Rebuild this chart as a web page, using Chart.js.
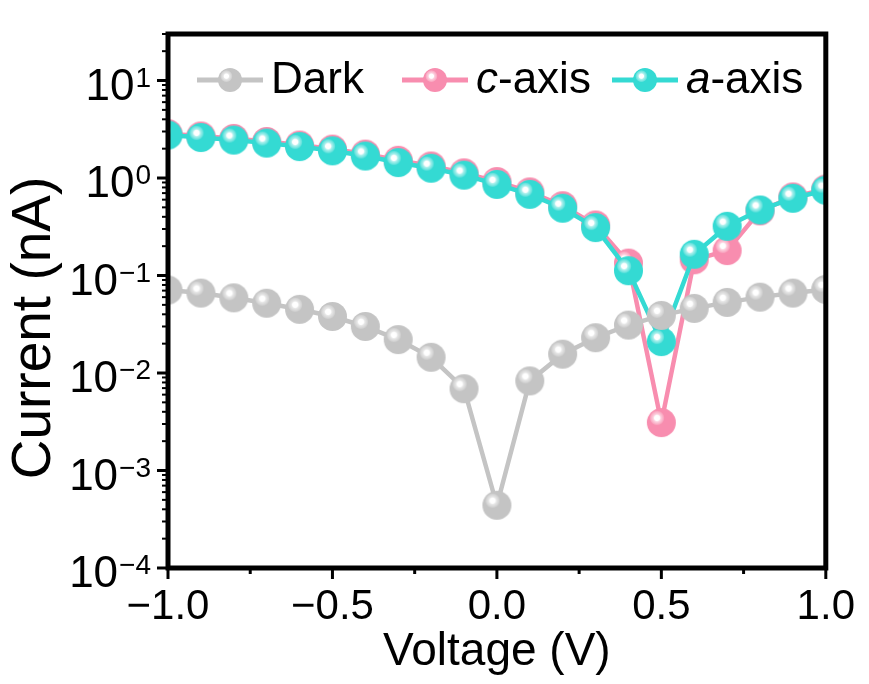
<!DOCTYPE html>
<html>
<head>
<meta charset="utf-8">
<script src="https://cdn.jsdelivr.net/npm/chart.js@4.4.0/dist/chart.umd.min.js"></script>
<style>
  html, body { margin: 0; padding: 0; background: #fff; }
  #wrap { width: 869px; height: 684px; }
</style>
</head>
<body>
<div id="wrap"><canvas id="chart" width="869" height="684"></canvas></div>
<script>
// values
const voltage = [-1.0, -0.9, -0.8, -0.7, -0.6, -0.5, -0.4, -0.3, -0.2, -0.1, 0.0,
                 0.1, 0.2, 0.3, 0.4, 0.5, 0.6, 0.7, 0.8, 0.9, 1.0];
const dark  = [0.071, 0.066, 0.059, 0.052, 0.045, 0.038, 0.030, 0.022, 0.0145, 0.0069, 0.00044,
               0.0083, 0.0156, 0.023, 0.031, 0.039, 0.046, 0.053, 0.060, 0.066, 0.072];
const cAxis = [2.85, 2.70, 2.55, 2.37, 2.18, 1.98, 1.76, 1.52, 1.33, 1.13, 0.92,
               0.72, 0.52, 0.33, 0.134, 0.0031, 0.145, 0.18, 0.46, 0.64, 0.77];
const aAxis = [2.76, 2.60, 2.45, 2.28, 2.10, 1.90, 1.68, 1.44, 1.26, 1.07, 0.86,
               0.68, 0.49, 0.31, 0.112, 0.021, 0.165, 0.32, 0.47, 0.62, 0.75];
const seriesNames = ['Dark', 'c-axis', 'a-axis'];
const xTicks = [-1.0, -0.5, 0.0, 0.5, 1.0];
const xMinorTicks = [-0.75, -0.25, 0.25, 0.75];
const yTicks = [1e-4, 1e-3, 1e-2, 1e-1, 1e0, 1e1];
const yExponents = ['\u22124', '\u22123', '\u22122', '\u22121', '0', '1'];

const FONT = '"Liberation Sans", Arial, sans-serif';
const GRAY = '#c4c4c4', PINK = '#f88daf', CYAN = '#34dad3';

function mixWhite(hex, t) {
  const n = parseInt(hex.slice(1), 16);
  const r = (n >> 16) & 255, g = (n >> 8) & 255, b = n & 255;
  const m = v => Math.round(v + (255 - v) * t);
  return 'rgb(' + m(r) + ',' + m(g) + ',' + m(b) + ')';
}

// shaded ball used as point marker
function ball(color, r) {
  const s = Math.ceil(r * 2) + 2;
  const cv = document.createElement('canvas');
  cv.width = s; cv.height = s;
  const g = cv.getContext('2d');
  const c = s / 2;
  g.fillStyle = color;
  g.beginPath(); g.arc(c, c, r, 0, Math.PI * 2); g.fill();
  const hx = c - r * 0.3, hy = c - r * 0.32;
  const grad = g.createRadialGradient(hx, hy, 0, hx, hy, r * 0.52);
  grad.addColorStop(0, '#ffffff');
  grad.addColorStop(0.35, '#ffffff');
  grad.addColorStop(0.5, mixWhite(color, 0.6));
  grad.addColorStop(0.85, mixWhite(color, 0.25));
  grad.addColorStop(1, color);
  g.fillStyle = grad;
  g.beginPath(); g.arc(hx, hy, r * 0.52, 0, Math.PI * 2); g.fill();
  return cv;
}

const balls = [ball(GRAY, 14.5), ball(PINK, 14.5), ball(CYAN, 14.5)];
const legendBalls = [ball(GRAY, 12), ball(PINK, 12), ball(CYAN, 12)];
const lineColors = [GRAY, PINK, CYAN];

function toPoints(ys) {
  return voltage.map((v, i) => ({ x: v, y: ys[i] }));
}

function fmtVolt(v) {
  const s = Math.abs(v).toFixed(1);
  return v < 0 ? '\u2212' + s : s;
}

const decor = {
  id: 'decor',
  afterDraw(chart) {
    const ctx = chart.ctx;
    const a = chart.chartArea;
    const xs = chart.scales.x, ys = chart.scales.y;
    ctx.save();
    ctx.strokeStyle = '#000';
    ctx.fillStyle = '#000';

    // frame
    ctx.lineWidth = 5;
    ctx.strokeRect(a.left, a.top, a.right - a.left, a.bottom - a.top);

    // x ticks
    ctx.lineWidth = 3;
    xTicks.forEach(v => {
      const px = xs.getPixelForValue(v);
      ctx.beginPath(); ctx.moveTo(px, a.bottom); ctx.lineTo(px, a.bottom + 11); ctx.stroke();
    });
    xMinorTicks.forEach(v => {
      const px = xs.getPixelForValue(v);
      ctx.beginPath(); ctx.moveTo(px, a.bottom); ctx.lineTo(px, a.bottom + 6); ctx.stroke();
    });

    // y ticks (log, minors at 2..9)
    yTicks.forEach((v, i) => {
      const py = ys.getPixelForValue(v);
      ctx.lineWidth = 3;
      ctx.beginPath(); ctx.moveTo(a.left, py); ctx.lineTo(a.left - 11, py); ctx.stroke();
      for (let k = 2; k <= 9; k++) {
        const mv = v * k;
        if (mv > ys.max) break;
        const my = ys.getPixelForValue(mv);
        ctx.lineWidth = 2;
        ctx.beginPath(); ctx.moveTo(a.left, my); ctx.lineTo(a.left - 6, my); ctx.stroke();
      }
      // label 10^n
      ctx.font = '28px ' + FONT;
      const ew = ctx.measureText(yExponents[i]).width;
      ctx.textAlign = 'right';
      ctx.textBaseline = 'alphabetic';
      const right = a.left - 17;
      ctx.fillText(yExponents[i], right, py + 6);
      ctx.font = '44px ' + FONT;
      ctx.fillText('10', right - ew - 1, py + 19);
    });

    // axis titles
    ctx.textAlign = 'center';
    ctx.textBaseline = 'middle';
    ctx.font = '46px ' + FONT;
    ctx.fillText('Voltage (V)', (a.left + a.right) / 2, 652);
    ctx.save();
    ctx.translate(35, 328);
    ctx.rotate(-Math.PI / 2);
    ctx.font = '55px ' + FONT;
    ctx.fillText('Current (nA)', 0, 0);
    ctx.restore();

    // legend
    const ly = 80;
    const starts = [197, 402, 612];
    ctx.textAlign = 'left';
    ctx.textBaseline = 'middle';
    seriesNames.forEach((name, i) => {
      const x0 = starts[i];
      ctx.strokeStyle = lineColors[i];
      ctx.lineWidth = 5;
      ctx.beginPath(); ctx.moveTo(x0, ly); ctx.lineTo(x0 + 66, ly); ctx.stroke();
      const b = legendBalls[i];
      ctx.drawImage(b, x0 + 33 - b.width / 2, ly - b.height / 2);
      let tx = x0 + 74;
      ctx.fillStyle = '#000';
      if (name.indexOf('-') === 1) {
        ctx.font = 'italic 44px ' + FONT;
        ctx.fillText(name[0], tx, ly + 1);
        tx += ctx.measureText(name[0]).width;
        ctx.font = '44px ' + FONT;
        ctx.fillText(name.slice(1), tx, ly + 1);
      } else {
        ctx.font = '44px ' + FONT;
        ctx.fillText(name, tx, ly + 1);
      }
    });
    ctx.restore();
  }
};

const series = [dark, cAxis, aAxis];
const drawOrder = [0, 2, 1];

new Chart(document.getElementById('chart'), {
  type: 'line',
  data: {
    datasets: series.map((ys, i) => ({
      label: seriesNames[i],
      data: toPoints(ys),
      borderColor: lineColors[i],
      backgroundColor: lineColors[i],
      borderWidth: 4.5,
      pointStyle: balls[i],
      pointRadius: 14,
      tension: 0,
      clip: 0,
      order: drawOrder[i]
    }))
  },
  options: {
    responsive: false,
    animation: false,
    devicePixelRatio: 1,
    layout: { padding: { top: 34, right: 38, left: 0, bottom: 0 } },
    plugins: { legend: { display: false }, tooltip: { enabled: false } },
    scales: {
      x: {
        type: 'linear',
        min: -1, max: 1,
        afterBuildTicks: s => { s.ticks = xTicks.map(v => ({ value: v })); },
        afterFit: s => { s.height = 116; },
        grid: { display: false, drawTicks: false },
        border: { display: false },
        ticks: {
          color: '#000',
          padding: 14,
          maxRotation: 0,
          font: { family: FONT, size: 42 },
          callback: v => fmtVolt(v)
        }
      },
      y: {
        type: 'logarithmic',
        min: 1e-4, max: 30,
        afterBuildTicks: s => { s.ticks = yTicks.map(v => ({ value: v })); },
        afterFit: s => { s.width = 168; },
        grid: { display: false, drawTicks: false },
        border: { display: false },
        ticks: { callback: () => '' }
      }
    }
  },
  plugins: [decor]
});
</script>
</body>
</html>
